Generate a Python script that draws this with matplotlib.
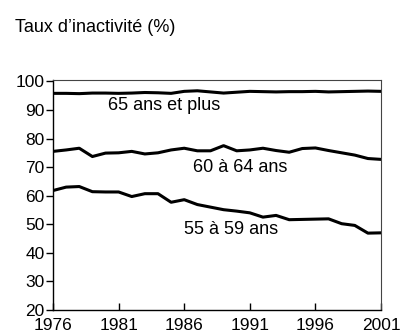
import matplotlib.pyplot as plt

plt.rcParams['font.family'] = ['Liberation Sans', 'DejaVu Sans']

years = list(range(1976, 2002))

# taux d'inactivite par tranche d'age (%)
inact_65_plus = [95.8, 95.8, 95.7, 95.9, 95.9, 95.8, 95.9, 96.1, 96.0, 95.8,
                 96.5, 96.7, 96.3, 95.9, 96.2, 96.5, 96.4, 96.3, 96.4, 96.4,
                 96.5, 96.3, 96.4, 96.5, 96.6, 96.5]
inact_60_64 = [75.5, 76.0, 76.6, 73.7, 74.9, 75.0, 75.5, 74.6, 75.0, 76.0,
               76.6, 75.7, 75.7, 77.5, 75.7, 76.0, 76.6, 75.8, 75.2, 76.5,
               76.7, 75.8, 75.0, 74.2, 73.0, 72.7]
inact_55_59 = [61.8, 63.0, 63.2, 61.4, 61.3, 61.3, 59.7, 60.7, 60.7, 57.7,
               58.6, 56.9, 56.0, 55.1, 54.6, 54.0, 52.5, 53.1, 51.6, 51.7,
               51.8, 51.9, 50.2, 49.6, 46.9, 47.0]

series = [
    (inact_65_plus, "65 ans et plus", 1984.5, 91.4),
    (inact_60_64, "60 à 64 ans", 1990.3, 70.0),
    (inact_55_59, "55 à 59 ans", 1989.6, 48.2),
]

fig = plt.figure(figsize=(4.01, 3.33), dpi=100)
ax = fig.add_axes([0.1322, 0.069, 0.818, 0.691])

for vals, label, lx, ly in series:
    ax.plot(years, vals, color='black', linewidth=2.2, solid_joinstyle='round')
    ax.text(lx, ly, label, ha='center', va='center', fontsize=13)

ax.set_xlim(1976, 2001)
ax.set_ylim(20, 100.5)
ax.set_xticks(range(1976, 2002, 5))
ax.set_yticks(range(20, 101, 10))
ax.tick_params(axis='y', direction='out', length=5, width=1, labelsize=12.5, pad=1)
ax.tick_params(axis='x', direction='in', length=5, width=1, labelsize=12.5, pad=6)

for side in ['left', 'bottom']:
    ax.spines[side].set_color('black')
    ax.spines[side].set_linewidth(1.0)
for side in ['top', 'right']:
    ax.spines[side].set_color('#444444')
    ax.spines[side].set_linewidth(0.8)

fig.text(15 / 401, 1 - 27 / 333, "Taux d’inactivité (%)", ha='left', va='center', fontsize=13)

fig.savefig('out.png', dpi=100)
